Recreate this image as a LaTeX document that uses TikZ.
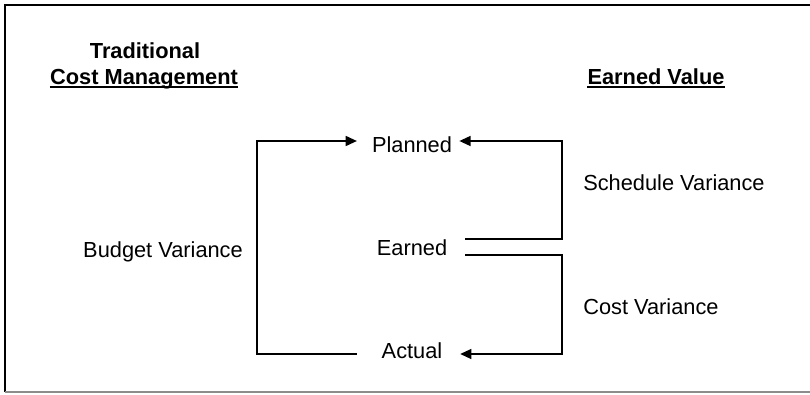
\documentclass[tikz,border=0pt]{standalone}
\usepackage{fontspec}
\setmainfont{Liberation Sans}
\usetikzlibrary{arrows.meta}

\tikzset{
    lbl/.style={font=\fontsize{15.5}{18}\selectfont, inner sep=0pt, anchor=base},
    head/.style={font=\fontsize{15.5}{18}\selectfont\bfseries, inner sep=0pt, anchor=base},
    conn/.style={line width=1.4pt, line join=miter},
    arr/.style={conn, -{Triangle[length=8pt, width=7pt]}},
    uline/.style={line width=1.1pt}
}

\begin{document}
\begin{tikzpicture}[x=0.025cm, y=-0.025cm]
            \useasboundingbox (0, 0) rectangle (810, 395);

            % frame
            \draw[line width=1.5pt] (5, 392) -- (5, 5) -- (812, 5);
            \draw[line width=1pt, black!45] (5, 392) -- (812, 392);

            % headings
            \node[head] (trad) at (145, 58) {Traditional};
            \node[head] (costmgmt) at (144, 84) {Cost Management};
            \node[head] (ev) at (656, 84) {Earned Value};
            \draw[uline] ([yshift=-2.2pt]costmgmt.base west) -- ([yshift=-2.2pt]costmgmt.base east);
            \draw[uline] ([yshift=-2.2pt]ev.base west) -- ([yshift=-2.2pt]ev.base east);

            % values
            \node[lbl] (planned) at (412, 152) {Planned};
            \node[lbl] (earned) at (412, 255) {Earned};
            \node[lbl] (actual) at (412, 358) {Actual};

            % variances
            \node[lbl] (budget) at (163, 257) {Budget Variance};
            \node[lbl, anchor=base west] (sched) at (583, 190) {Schedule Variance};
            \node[lbl, anchor=base west] (cost) at (583, 314) {Cost Variance};

            \coordinate (lt) at (257, 141);
            \coordinate (lb) at (257, 354);
            \coordinate (rt) at (562, 141);
            \coordinate (rb) at (562, 354);
            \coordinate (et) at (562, 239);
            \coordinate (eb) at (562, 255);

            \draw[arr, shorten <=17.5pt, shorten >=10.5pt] (lb -| actual.west) -- (lb) -- (lt) -- (lt -| planned.west);
            \draw[arr, shorten <=12.5pt, shorten >=5pt] (et -| earned.east) -- (et) -- (rt) -- (rt -| planned.east);
            \draw[arr, shorten <=12.5pt, shorten >=12.5pt] (eb -| earned.east) -- (eb) -- (rb) -- (rb -| actual.east);
        \end{tikzpicture}
\end{document}
